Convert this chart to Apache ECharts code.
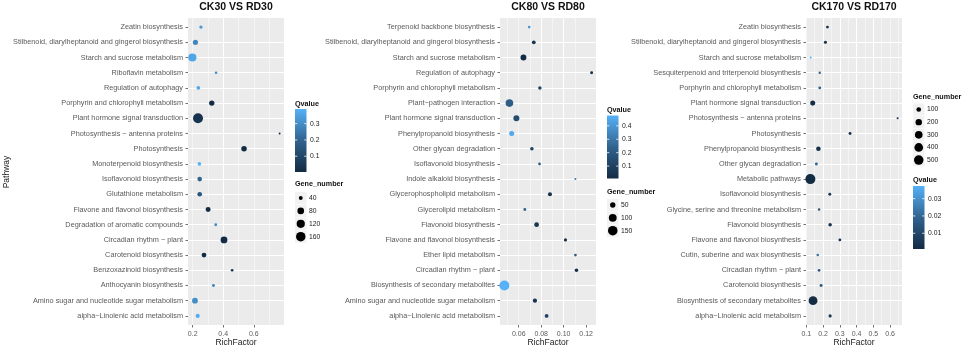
<!DOCTYPE html>
<html lang="en">
<head>
<meta charset="UTF-8">
<title>KEGG enrichment scatter</title>
<script src="https://cdn.jsdelivr.net/npm/echarts@6/dist/echarts.min.js"></script>
<style>
    *{margin:0;padding:0;}
    html,body{width:100%;height:100%;background:#fff;}
    #chart{width:964px;height:349px;}
</style>
</head>
<body>
<div id="chart"></div>
<script>
// every list below runs top -> bottom as the rows appear in the picture
var titles = ['CK30 VS RD30', 'CK80 VS RD80', 'CK170 VS RD170'];

var names1 = ['Zeatin biosynthesis', 'Stilbenoid, diarylheptanoid and gingerol biosynthesis', 'Starch and sucrose metabolism',
    'Riboflavin metabolism', 'Regulation of autophagy', 'Porphyrin and chlorophyll metabolism', 'Plant hormone signal transduction',
    'Photosynthesis \u2212 antenna proteins', 'Photosynthesis', 'Monoterpenoid biosynthesis', 'Isoflavonoid biosynthesis',
    'Glutathione metabolism', 'Flavone and flavonol biosynthesis', 'Degradation of aromatic compounds', 'Circadian rhythm \u2212 plant',
    'Carotenoid biosynthesis', 'Benzoxazinoid biosynthesis', 'Anthocyanin biosynthesis', 'Amino sugar and nucleotide sugar metabolism',
    'alpha\u2212Linolenic acid metabolism'];
var rich1 = [0.254, 0.218, 0.198, 0.353, 0.237, 0.325, 0.235, 0.769, 0.536, 0.244, 0.246, 0.246, 0.301, 0.351, 0.405, 0.274, 0.458, 0.336, 0.215, 0.233];
var qval1 = [0.33, 0.28, 0.36, 0.30, 0.36, 0.01, 0.03, 0.01, 0.005, 0.39, 0.20, 0.15, 0.01, 0.30, 0.003, 0.01, 0.02, 0.28, 0.30, 0.38];
var genes1 = [36, 55, 120, 33, 38, 58, 178, 32, 60, 38, 48, 48, 52, 34, 85, 50, 33, 34, 65, 42];

var names2 = ['Terpenoid backbone biosynthesis', 'Stilbenoid, diarylheptanoid and gingerol biosynthesis', 'Starch and sucrose metabolism',
    'Regulation of autophagy', 'Porphyrin and chlorophyll metabolism', 'Plant\u2212pathogen interaction', 'Plant hormone signal transduction',
    'Phenylpropanoid biosynthesis', 'Other glycan degradation', 'Isoflavonoid biosynthesis', 'Indole alkaloid biosynthesis',
    'Glycerophospholipid metabolism', 'Glycerolipid metabolism', 'Flavonoid biosynthesis', 'Flavone and flavonol biosynthesis',
    'Ether lipid metabolism', 'Circadian rhythm \u2212 plant', 'Biosynthesis of secondary metabolites',
    'Amino sugar and nucleotide sugar metabolism', 'alpha\u2212Linolenic acid metabolism'];
var rich2 = [0.0693, 0.0734, 0.0642, 0.1249, 0.0788, 0.0517, 0.0579, 0.0537, 0.0717, 0.0785, 0.1105, 0.0878, 0.0654, 0.0759, 0.1016, 0.1105, 0.1114, 0.0472, 0.0744, 0.0848];
var qval2 = [0.40, 0.05, 0.0075, 0.03, 0.12, 0.22, 0.15, 0.45, 0.10, 0.20, 0.30, 0.03, 0.25, 0.05, 0.03, 0.20, 0.02, 0.477, 0.04, 0.10];
var genes2 = [26, 32, 58, 27, 30, 95, 60, 45, 30, 26, 25, 34, 27, 42, 28, 26, 30, 165, 36, 32];

var names3 = ['Zeatin biosynthesis', 'Stilbenoid, diarylheptanoid and gingerol biosynthesis', 'Starch and sucrose metabolism',
    'Sesquiterpenoid and triterpenoid biosynthesis', 'Porphyrin and chlorophyll metabolism', 'Plant hormone signal transduction',
    'Photosynthesis \u2212 antenna proteins', 'Photosynthesis', 'Phenylpropanoid biosynthesis', 'Other glycan degradation',
    'Metabolic pathways', 'Isoflavonoid biosynthesis', 'Glycine, serine and threonine metabolism', 'Flavonoid biosynthesis',
    'Flavone and flavonol biosynthesis', 'Cutin, suberine and wax biosynthesis', 'Circadian rhythm \u2212 plant',
    'Carotenoid biosynthesis', 'Biosynthesis of secondary metabolites', 'alpha\u2212Linolenic acid metabolism'];
var rich3 = [0.226, 0.214, 0.126, 0.180, 0.180, 0.138, 0.645, 0.361, 0.172, 0.160, 0.124, 0.240, 0.176, 0.242, 0.300, 0.168, 0.176, 0.188, 0.140, 0.242];
var qval3 = [0.003, 0.002, 0.0373, 0.020, 0.018, 0.002, 0.001, 0.004, 0.003, 0.020, 0.0009, 0.005, 0.015, 0.004, 0.003, 0.022, 0.015, 0.016, 0.001, 0.004];
var genes3 = [45, 50, 40, 42, 45, 115, 40, 48, 95, 48, 560, 48, 42, 60, 45, 42, 44, 48, 420, 50];

// tick / legend labels
var xTicks1 = [0.2, 0.4, 0.6];
var xTicks2 = [0.06, 0.08, 0.10, 0.12];
var xTicks3 = [0.1, 0.2, 0.3, 0.4, 0.5, 0.6];
var qBreaks1 = [0.1, 0.2, 0.3];
var qBreaks2 = [0.1, 0.2, 0.3, 0.4];
var qBreaks3 = [0.01, 0.02, 0.03];
var geneBreaks1 = [40, 80, 120, 160];
var geneBreaks2 = [50, 100, 150];
var geneBreaks3 = [100, 200, 300, 400, 500];

var FONT = '"Liberation Sans", Arial, sans-serif';
var colorStops = ['#132B43', '#31638F', '#56B1F7'];

// layout only
var panels = [
    {names: names1, rich: rich1, q: qval1, g: genes1, ticks: xTicks1, dec: 1, qb: qBreaks1, gb: geneBreaks1,
        left: 188, lx: 295, qTitleY: 104, barTop: 109, gTitleY: 184, keyY: 198, keyStep: 12.9},
    {names: names2, rich: rich2, q: qval2, g: genes2, ticks: xTicks2, dec: 2, qb: qBreaks2, gb: geneBreaks2,
        left: 500, lx: 607, qTitleY: 110, barTop: 115.5, gTitleY: 192.5, keyY: 205, keyStep: 12.85},
    {names: names3, rich: rich3, q: qval3, g: genes3, ticks: xTicks3, dec: 1, qb: qBreaks3, gb: geneBreaks3,
        left: 806, lx: 913, qTitleY: 180.5, barTop: 186, gTitleY: 97.5, keyY: 109.5, keyStep: 12.65}
];
var GRID_W = 96, GRID_TOP = 18, GRID_H = 307, BAR_W = 11.5, BAR_H = 63;

function minOf(a){ return Math.min.apply(null, a); }
function maxOf(a){ return Math.max.apply(null, a); }

// ggplot-like area scale: diameter grows with sqrt of rescaled value
function sizeFn(p){
    var lo = minOf(p.g), hi = maxOf(p.g);
    return function(v){
        var r = Math.max(0, Math.min(1, (v - lo) / (hi - lo)));
        return 2 + 8 * Math.sqrt(r);
    };
}

var grids = [], xAxes = [], minorX = [], yAxes = [], series = [], visualMaps = [], graphics = [];

panels.forEach(function(p, k){
    var n = p.names.length;
    var lo = minOf(p.rich), hi = maxOf(p.rich), pad = (hi - lo) * 0.05;
    var step = p.ticks[1] - p.ticks[0];
    var size = sizeFn(p);
    var idx = p.names.map(function(_, i){ return i; });

    grids.push({left: p.left, top: GRID_TOP, width: GRID_W, height: GRID_H,
        outerBoundsMode: 'none', containLabel: false,
        show: true, backgroundColor: '#EBEBEB', borderWidth: 0});

    xAxes.push({
        type: 'value', gridIndex: k, min: lo - pad, max: hi + pad,
        minInterval: step, maxInterval: step,
        axisLine: {show: false, onZero: false},
        axisTick: {show: true, length: 2.5, customValues: p.ticks, lineStyle: {color: '#4d4d4d', width: 0.8}},
        axisLabel: {customValues: p.ticks, fontSize: 7, fontFamily: FONT, color: '#5a5a5a', margin: 6,
            formatter: function(v){ return (+v).toFixed(p.dec); }},
        splitLine: {show: true, showMinLine: false, showMaxLine: false, lineStyle: {color: '#ffffff', width: 1}},
        name: 'RichFactor', nameLocation: 'middle', nameGap: 13, nameMoveOverlap: false,
        nameTextStyle: {fontSize: 8.5, fontFamily: FONT, color: '#1a1a1a'}
    });
    minorX.push({
        type: 'value', gridIndex: k, position: 'top', min: lo - pad, max: hi + pad,
        minInterval: step / 2, maxInterval: step / 2,
        axisLine: {show: false, onZero: false}, axisTick: {show: false}, axisLabel: {show: false},
        splitLine: {show: true, showMinLine: false, showMaxLine: false, lineStyle: {color: '#ffffff', width: 0.5}}
    });
    yAxes.push({
        type: 'value', gridIndex: k, min: -0.6, max: n - 0.4,
        minInterval: 1, maxInterval: 1,
        axisLine: {show: false, onZero: false},
        axisTick: {show: true, length: 2.5, customValues: idx, lineStyle: {color: '#4d4d4d', width: 0.8}},
        axisLabel: {customValues: idx, fontSize: 7.3, fontFamily: FONT, color: '#5a5a5a', margin: 5,
            formatter: function(v){ return p.names[n - 1 - Math.round(v)]; }},
        splitLine: {show: true, showMinLine: false, showMaxLine: false, lineStyle: {color: '#ffffff', width: 1}}
    });

    series.push({
        type: 'scatter', xAxisIndex: k, yAxisIndex: k,
        data: p.names.map(function(_, i){ return [p.rich[i], n - 1 - i, p.q[i], p.g[i]]; }),
        symbolSize: function(d){ return size(d[3]); },
        itemStyle: {opacity: 1},
        emphasis: {disabled: true}
    });

    var qlo = minOf(p.q), qhi = maxOf(p.q);
    visualMaps.push({type: 'continuous', show: false, seriesIndex: k, dimension: 2,
        min: qlo, max: qhi, inRange: {color: colorStops}});

    // panel title
    graphics.push({type: 'text', style: {text: titles[k], x: p.left + GRID_W / 2, y: 7,
        textAlign: 'center', textVerticalAlign: 'middle', font: 'bold 10.5px ' + FONT, fill: '#111'}});

    // Qvalue colourbar
    var x0 = p.lx;
    graphics.push({type: 'text', style: {text: 'Qvalue', x: x0, y: p.qTitleY,
        textAlign: 'left', textVerticalAlign: 'middle', font: 'bold 7.2px ' + FONT, fill: '#111'}});
    graphics.push({type: 'rect', shape: {x: x0, y: p.barTop, width: BAR_W, height: BAR_H},
        style: {fill: new echarts.graphic.LinearGradient(0, 1, 0, 0, [
            {offset: 0, color: colorStops[0]}, {offset: 0.5, color: colorStops[1]}, {offset: 1, color: colorStops[2]}])}});
    p.qb.forEach(function(b){
        var yy = p.barTop + BAR_H - (b - qlo) / (qhi - qlo) * BAR_H;
        graphics.push({type: 'line', shape: {x1: x0, y1: yy, x2: x0 + 2.3, y2: yy}, style: {stroke: '#fff', lineWidth: 0.8}});
        graphics.push({type: 'line', shape: {x1: x0 + BAR_W - 2.3, y1: yy, x2: x0 + BAR_W, y2: yy}, style: {stroke: '#fff', lineWidth: 0.8}});
        graphics.push({type: 'text', style: {text: String(b), x: x0 + BAR_W + 3.5, y: yy,
            textAlign: 'left', textVerticalAlign: 'middle', font: '6.8px ' + FONT, fill: '#1a1a1a'}});
    });

    // Gene_number size keys
    graphics.push({type: 'text', style: {text: 'Gene_number', x: x0, y: p.gTitleY,
        textAlign: 'left', textVerticalAlign: 'middle', font: 'bold 7.2px ' + FONT, fill: '#111'}});
    p.gb.forEach(function(b, j){
        var yy = p.keyY + j * p.keyStep;
        graphics.push({type: 'rect', shape: {x: x0, y: yy - p.keyStep / 2 + 0.3, width: 11.5, height: p.keyStep - 0.6},
            style: {fill: '#F2F2F2'}});
        graphics.push({type: 'circle', shape: {cx: x0 + 5.75, cy: yy, r: size(b) / 2}, style: {fill: '#000'}});
        graphics.push({type: 'text', style: {text: String(b), x: x0 + 14, y: yy,
            textAlign: 'left', textVerticalAlign: 'middle', font: '6.8px ' + FONT, fill: '#1a1a1a'}});
    });
});

graphics.push({type: 'text', rotation: Math.PI / 2, x: 7, y: 172,
    style: {text: 'Pathway', x: 0, y: 0, textAlign: 'center', textVerticalAlign: 'middle', font: '8.5px ' + FONT, fill: '#1a1a1a'}});

var myChart = echarts.init(document.getElementById('chart'), null, {renderer: 'canvas'});
myChart.setOption({
    animation: false,
    backgroundColor: '#ffffff',
    textStyle: {fontFamily: FONT},
    grid: grids,
    xAxis: xAxes.concat(minorX),
    yAxis: yAxes,
    visualMap: visualMaps,
    series: series,
    graphic: {elements: graphics}
});
window.onresize = myChart.resize;
</script>
</body>
</html>
